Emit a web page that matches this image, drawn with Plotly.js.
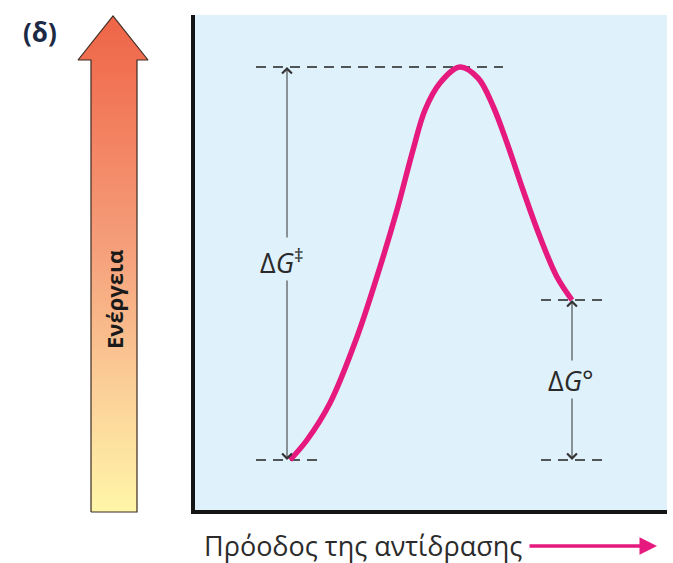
<!DOCTYPE html>
<html>
<head>
<meta charset="utf-8">
<script src="https://cdn.plot.ly/plotly-3.0.1.min.js"></script>
<style>html,body{margin:0;padding:0;background:#fff;}#chart{width:673px;height:563px;}</style>
</head>
<body>
<div id="chart"></div>
<script>
// Reaction progress (x) and energy (y) of the reaction-coordinate curve
const progress = [95,112,135,162,185,202,218,230,245,265,283,298,312,328,345,362,377];
const energy   = [50,70,107,173,243,300,360,400,427,443,432,404,367,320,273,233,210];

// Energy levels: reactants, transition state, products
const levelNames  = ['reactants','transition','products'];
const levelValues = [50, 443, 210];

// Labels
const panelLabel = '(δ)';
const energyLabel = 'Ενέργεια';
const progressLabel = 'Πρόοδος της αντίδρασης';
const activationLabel = 'Δ<i>G</i><sup>‡</sup>';
const standardLabel = 'Δ<i>G</i>°';

const W = 673, H = 563;
const yR = levelValues[0], yT = levelValues[1], yP = levelValues[2];
const xLeftArrow = 92, xRightArrow = 377;

const traces = [
  {
    x: progress, y: energy, xaxis: 'x', yaxis: 'y',
    mode: 'lines', line: {color: '#e5197e', width: 5.5, shape: 'spline', smoothing: 1},
    hoverinfo: 'skip', showlegend: false
  },
  {
    // decorative energy arrow (figure pixel coordinates)
    x: [91, 91, 78, 113, 148, 137, 137, 91],
    y: [512, 60, 60, 16, 60, 60, 512, 512],
    xaxis: 'x2', yaxis: 'y2', mode: 'lines', fill: 'toself',
    line: {color: '#3b2a22', width: 1.2},
    fillgradient: {type: 'vertical', start: 16, stop: 512,
      colorscale: [[0, '#ef6447'], [0.45, '#f59c78'], [0.75, '#fbcf98'], [1, '#fff6a8']]},
    hoverinfo: 'skip', showlegend: false
  }
];

const dashStyle = {color: '#222', width: 1.3, dash: '10px,7px'};
const shapes = [
  {type: 'rect', xref: 'x domain', yref: 'y domain', x0: 0, x1: 1, y0: 0, y1: 1,
   fillcolor: '#dff1fb', line: {width: 0}, layer: 'below'},
  {type: 'line', xref: 'x', yref: 'y', x0: 61, x1: 308, y0: yT, y1: yT, line: dashStyle, layer: 'below'},
  {type: 'line', xref: 'x', yref: 'y', x0: 61, x1: 125, y0: yR, y1: yR, line: dashStyle, layer: 'below'},
  {type: 'line', xref: 'x', yref: 'y', x0: 346, x1: 410, y0: yP, y1: yP, line: dashStyle, layer: 'below'},
  {type: 'line', xref: 'x', yref: 'y', x0: 346, x1: 410, y0: yR, y1: yR, line: dashStyle, layer: 'below'}
];

function vArrow(x, yFrom, yTo) {
  return {xref: 'x', yref: 'y', axref: 'x', ayref: 'y', x: x, y: yTo, ax: x, ay: yFrom,
    text: '', showarrow: true, arrowhead: 4, arrowsize: 1.9, arrowwidth: 1, arrowcolor: '#333', standoff: 0};
}

const labelFont = {family: 'Open Sans, Noto Sans, sans-serif', size: 27, color: '#2a2a2a'};

const annotations = [
  vArrow(xLeftArrow, 271, yT),
  vArrow(xLeftArrow, 231, yR),
  vArrow(xRightArrow, 148, yP),
  vArrow(xRightArrow, 113, yR),
  {xref: 'x', yref: 'y', x: 87, y: 249, text: activationLabel, showarrow: false, font: labelFont},
  {xref: 'x', yref: 'y', x: 376, y: 130, text: standardLabel, showarrow: false, font: labelFont},
  {xref: 'x2', yref: 'y2', x: 114, y: 300, text: '<b>' + energyLabel + '</b>', textangle: -90, showarrow: false,
   font: {family: 'Open Sans, Noto Sans, sans-serif', size: 22, color: '#1a1a1a'}},
  {xref: 'x2', yref: 'y2', x: 40, y: 32, text: '<b>' + panelLabel + '</b>', showarrow: false,
   font: {family: 'Open Sans, Noto Sans, sans-serif', size: 26, color: '#1d2a45'}},
  {xref: 'x2', yref: 'y2', x: 524, y: 545, xanchor: 'right', text: progressLabel, showarrow: false,
   font: {family: 'Open Sans, Noto Sans, sans-serif', size: 27, color: '#2b2b2b'}},
  {xref: 'x2', yref: 'y2', axref: 'x2', ayref: 'y2', x: 657, y: 546, ax: 528, ay: 546, text: '',
   showarrow: true, arrowhead: 2, arrowsize: 1, arrowwidth: 3.5, arrowcolor: '#e5197e', standoff: 0}
];

const hidden = {visible: false, showgrid: false, zeroline: false, showticklabels: false, fixedrange: true};

const layout = {
  width: W, height: H,
  margin: {l: 0, r: 0, t: 0, b: 0, pad: 0},
  paper_bgcolor: '#ffffff', plot_bgcolor: 'rgba(0,0,0,0)',
  showlegend: false,
  xaxis: {domain: [195 / W, 667 / W], range: [0, 472], showline: true, linecolor: '#151515', linewidth: 4,
          showgrid: false, zeroline: false, showticklabels: false, ticks: '', fixedrange: true},
  yaxis: {domain: [(H - 510) / H, (H - 15) / H], range: [0, 495], showline: true, linecolor: '#151515', linewidth: 4,
          showgrid: false, zeroline: false, showticklabels: false, ticks: '', fixedrange: true},
  xaxis2: Object.assign({domain: [0, 1], range: [0, W], anchor: 'y2'}, hidden),
  yaxis2: Object.assign({domain: [0, 1], range: [H, 0], anchor: 'x2'}, hidden),
  shapes: shapes,
  annotations: annotations
};

Plotly.newPlot('chart', traces, layout, {staticPlot: true, displayModeBar: false});
</script>
</body>
</html>
